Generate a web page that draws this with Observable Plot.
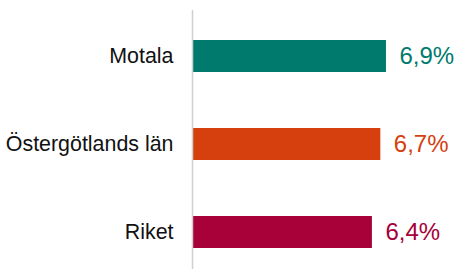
<!DOCTYPE html>
<html>
<head>
<meta charset="utf-8">
<script src="https://cdn.jsdelivr.net/npm/d3@7"></script>
<script src="https://cdn.jsdelivr.net/npm/@observablehq/plot@0.6"></script>
<style>
  html, body { margin: 0; padding: 0; background: #fff; }
  #chart svg { display: block; }
</style>
</head>
<body>
<div id="chart"></div>
<script>
const categories = ["Motala", "Östergötlands län", "Riket"];
const values = [6.9, 6.7, 6.4];
const colors = ["#007a6d", "#d6400f", "#a80038"];

const data = categories.map((name, i) => ({name, value: values[i]}));
const fmt = v => v.toFixed(1).replace(".", ",") + "%";

const chart = Plot.plot({
  width: 459,
  height: 269,
  marginLeft: 192,
  marginRight: 14,
  marginTop: 10,
  marginBottom: 0,
  style: {fontFamily: "'Liberation Sans', Arial, sans-serif", background: "#fff", overflow: "visible"},
  x: {domain: [0, 9], axis: null},
  y: {domain: categories, range: [39, 249], paddingInner: 0.64, paddingOuter: 0, label: null},
  color: {domain: categories, range: colors},
  marks: [
    Plot.barX(data, {x: "value", y: "name", fill: "name", insetLeft: 1}),
    Plot.ruleX([0], {stroke: "#d0d0d0", strokeWidth: 1.5}),
    Plot.axisY({tickSize: 0, tickPadding: 19, fontSize: 21.4, fill: "#111", label: null}),
    Plot.text(data, {x: "value", y: "name", text: d => fmt(d.value), fill: "name", textAnchor: "start", dx: 13, fontSize: 24})
  ]
});
document.getElementById("chart").appendChild(chart);
</script>
</body>
</html>
